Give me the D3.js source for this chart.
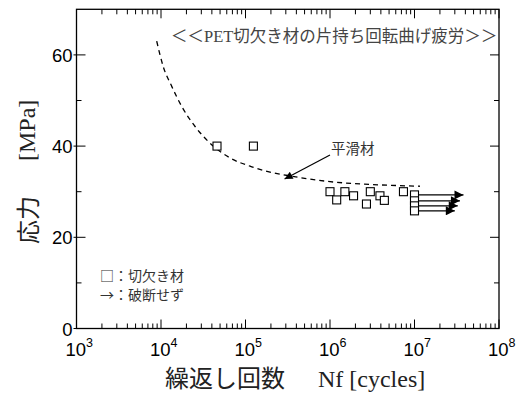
<!DOCTYPE html>
<html>
<head>
<meta charset="utf-8">
<script src="https://cdn.jsdelivr.net/npm/d3@7"></script>
<style>
  body { margin: 0; background: #fff; }
  text { font-family: "Liberation Sans", Arial, sans-serif; }
  .serif { font-family: "Liberation Serif", "Noto Sans CJK JP", serif; }
  .cjk { font-family: "Noto Sans CJK JP", sans-serif; }
</style>
</head>
<body>
<div id="chart"></div>
<script>
'use strict';

// notched specimens (broken)
let notch_n = [4.6e4, 1.24e5, 1.0e6, 1.2e6, 1.5e6, 1.9e6, 2.7e6, 3.0e6, 3.9e6, 4.4e6, 7.4e6];
let notch_s = [40, 40, 30, 28.2, 30, 29.1, 27.3, 30, 29.1, 28.1, 30];

// run-outs (not broken) and where their arrows end
let runout_n = [1e7, 1e7, 1e7, 1e7];
let runout_s = [29.3, 28.0, 26.9, 25.8];
let runout_to = [3.8e7, 3.45e7, 3.25e7, 3.0e7];

// smooth specimen curve (dashed)
let smooth_n = [8.9e3, 1.06e4, 1.34e4, 1.76e4, 2.53e4, 3.63e4, 6.56e4, 1.13e5, 1.95e5, 3.52e5, 1.0e6, 2.97e6, 1.16e7];
let smooth_s = [63.0, 57.5, 53.1, 48.7, 44.3, 41.0, 37.4, 35.6, 34.3, 33.4, 32.2, 31.6, 31.2];

let x_major = [1e3, 1e4, 1e5, 1e6, 1e7, 1e8];
let x_exp = ['3', '4', '5', '6', '7', '8'];
let y_major = [0, 20, 40, 60];
let y_minor = [10, 30, 50];

let width = 528, height = 401;
let p_left = 76.5, p_right = 499, p_top = 9.3, p_bottom = 328.5;

let svg = d3.select('#chart').append('svg')
    .attr('width', width)
    .attr('height', height);

let x = d3.scaleLog().domain([1e3, 1e8]).range([p_left, p_right]);
let y = d3.scaleLinear().domain([0, 70]).range([p_bottom, p_top]);

let x_minor = x.ticks().filter(function(d) { return x_major.indexOf(d) < 0; });

// ticks, all pointing inward
let axes = svg.append('g').attr('stroke', '#000').attr('stroke-width', 1);

let tick = function(x1, y1, x2, y2) {
    axes.append('line').attr('x1', x1).attr('y1', y1).attr('x2', x2).attr('y2', y2);
};

x_major.forEach(function(d) {
    tick(x(d), p_bottom, x(d), p_bottom - 9);
    tick(x(d), p_top, x(d), p_top + 9);
});
x_minor.forEach(function(d) {
    tick(x(d), p_bottom, x(d), p_bottom - 5);
    tick(x(d), p_top, x(d), p_top + 5);
});
y_major.forEach(function(d) {
    tick(p_left - 3, y(d), p_left + 9, y(d));
    tick(p_right, y(d), p_right - 9, y(d));
});
y_minor.forEach(function(d) {
    tick(p_left, y(d), p_left + 5, y(d));
    tick(p_right, y(d), p_right - 5, y(d));
});

axes.append('rect')
    .attr('x', p_left).attr('y', p_top)
    .attr('width', p_right - p_left).attr('height', p_bottom - p_top)
    .attr('fill', 'none').attr('stroke-width', 1.3);

// tick labels
svg.append('g').selectAll('text')
    .data(y_major)
    .enter().append('text')
    .attr('x', p_left - 4)
    .attr('y', function(d) { return y(d) + 7; })
    .attr('text-anchor', 'end')
    .attr('font-size', 18.5)
    .text(function(d) { return d; });

let xl = svg.append('g').selectAll('text')
    .data(x_major)
    .enter().append('text')
    .attr('x', function(d) { return x(d) - 11; })
    .attr('y', 356)
    .attr('font-size', 18.5);
xl.append('tspan').text('10');
xl.append('tspan')
    .attr('dy', -9)
    .attr('font-size', 12.5)
    .text(function(d, i) { return x_exp[i]; });

// axis titles
svg.append('text').attr('class', 'serif')
    .attr('x', 165).attr('y', 387)
    .attr('font-size', 24)
    .attr('fill', '#222')
    .text('繰返し回数');
svg.append('text').attr('class', 'serif')
    .attr('x', 318).attr('y', 387)
    .attr('font-size', 24)
    .attr('fill', '#222')
    .text('Nf [cycles]');

svg.append('text').attr('class', 'serif')
    .attr('transform', 'translate(37,244) rotate(-90)')
    .attr('font-size', 24)
    .attr('fill', '#222')
    .text('応力');
svg.append('text').attr('class', 'serif')
    .attr('transform', 'translate(35,161) rotate(-90)')
    .attr('font-size', 24)
    .attr('fill', '#222')
    .text('[MPa]');

// chart title inside the frame
svg.append('text').attr('class', 'serif')
    .attr('x', 171).attr('y', 42)
    .attr('font-size', 16.5)
    .attr('fill', '#444')
    .text('＜＜PET切欠き材の片持ち回転曲げ疲労＞＞');

// smooth specimen curve
let smooth = smooth_n.map(function(d, i) { return [d, smooth_s[i]]; });
svg.append('path')
    .datum(smooth)
    .attr('fill', 'none')
    .attr('stroke', '#000')
    .attr('stroke-width', 1.3)
    .attr('stroke-dasharray', '5,4')
    .attr('d', d3.line()
        .x(function(d) { return x(d[0]); })
        .y(function(d) { return y(d[1]); })
        .curve(d3.curveMonotoneX));

// arrow heads
let defs = svg.append('defs');
defs.append('marker')
    .attr('id', 'head')
    .attr('viewBox', '0 0 10 10')
    .attr('refX', 10).attr('refY', 5)
    .attr('markerUnits', 'userSpaceOnUse')
    .attr('markerWidth', 16).attr('markerHeight', 9)
    .attr('orient', 'auto')
    .append('path')
    .attr('d', 'M0,0L10,5L0,10Z')
    .attr('fill', '#000');
defs.append('marker')
    .attr('id', 'small')
    .attr('viewBox', '0 0 10 10')
    .attr('refX', 10).attr('refY', 5)
    .attr('markerUnits', 'userSpaceOnUse')
    .attr('markerWidth', 13).attr('markerHeight', 8)
    .attr('orient', 'auto')
    .append('path')
    .attr('d', 'M0,0L10,5L0,10Z')
    .attr('fill', '#000');

// 平滑材 label with its pointer
svg.append('line')
    .attr('x1', 330).attr('y1', 155)
    .attr('x2', x(2.9e5)).attr('y2', y(32.8))
    .attr('stroke', '#000').attr('stroke-width', 1.2)
    .attr('marker-end', 'url(#small)');
svg.append('text').attr('class', 'cjk')
    .attr('x', 331).attr('y', 154)
    .attr('font-size', 14.5)
    .attr('fill', '#333')
    .text('平滑材');

// run-out arrows
svg.append('g').selectAll('line')
    .data(runout_n)
    .enter().append('line')
    .attr('x1', function(d) { return x(d) + 4; })
    .attr('x2', function(d, i) { return x(runout_to[i]); })
    .attr('y1', function(d, i) { return y(runout_s[i]); })
    .attr('y2', function(d, i) { return y(runout_s[i]); })
    .attr('stroke', '#000').attr('stroke-width', 1.3)
    .attr('marker-end', 'url(#head)');

// squares
let pts = notch_n.map(function(d, i) { return [d, notch_s[i]]; })
    .concat(runout_n.map(function(d, i) { return [d, runout_s[i]]; }));
svg.append('g').selectAll('rect')
    .data(pts)
    .enter().append('rect')
    .attr('x', function(d) { return x(d[0]) - 4; })
    .attr('y', function(d) { return y(d[1]) - 4; })
    .attr('width', 8).attr('height', 8)
    .attr('fill', '#fff')
    .attr('stroke', '#000').attr('stroke-width', 1.1);

// legend notes
svg.append('text').attr('class', 'cjk')
    .attr('x', 100).attr('y', 281)
    .attr('font-size', 14)
    .attr('fill', '#333')
    .text('□：切欠き材');
svg.append('text').attr('class', 'cjk')
    .attr('x', 100).attr('y', 300)
    .attr('font-size', 14)
    .attr('fill', '#333')
    .text('→：破断せず');
</script>
</body>
</html>
